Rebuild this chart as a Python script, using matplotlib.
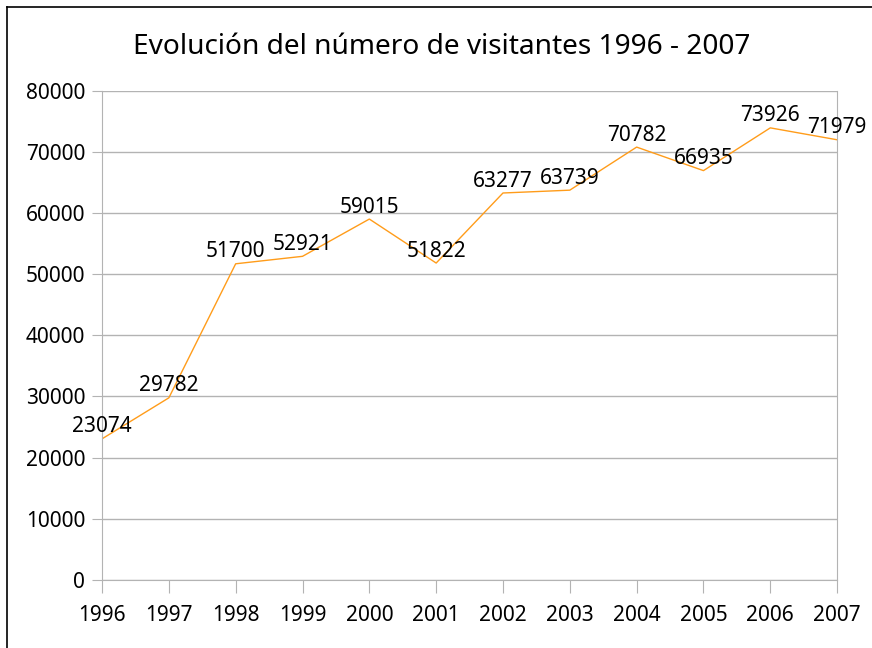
import matplotlib.pyplot as plt
from matplotlib.lines import Line2D

# Données
annees = [1996, 1997, 1998, 1999, 2000, 2001, 2002, 2003, 2004, 2005, 2006, 2007]
visitantes = [23074, 29782, 51700, 52921, 59015, 51822, 63277, 63739, 70782, 66935, 73926, 71979]
y_ticks = [0, 10000, 20000, 30000, 40000, 50000, 60000, 70000, 80000]

plt.rcParams['font.family'] = ['Noto Sans', 'DejaVu Sans']

fig = plt.figure(figsize=(8.72, 6.48), dpi=100)
ax = fig.add_axes([0.117, 0.105, 0.843, 0.755])

ax.plot(annees, visitantes, color='#ff9c1a', linewidth=1.0)

# Etiquettes des valeurs
for x, y in zip(annees, visitantes):
    ax.annotate(f'{y}', xy=(x, y), xytext=(0, 1), textcoords='offset points',
                ha='center', va='bottom', fontsize=15)

ax.set_xlim(1996, 2007)
ax.set_ylim(0, 80000)
ax.set_xticks(annees)
ax.set_yticks(y_ticks)
ax.tick_params(axis='both', labelsize=15, color='#b3b3b3')
ax.tick_params(axis='x', length=9, pad=9)
ax.tick_params(axis='y', length=7, pad=5)

ax.grid(axis='y', color='#b3b3b3', linewidth=1.0)
ax.grid(axis='x', visible=False)
ax.spines['top'].set_visible(False)
for s in ['left', 'bottom', 'right']:
    ax.spines[s].set_color('#b3b3b3')

fig.text(0.507, 0.928, 'Evolución del número de visitantes 1996 - 2007',
         ha='center', va='center', fontsize=20.2)

# Bordure du cadre (haut et gauche)
fig.add_artist(Line2D([0.008, 1.0], [0.989, 0.989], transform=fig.transFigure, color='black', linewidth=1.2))
fig.add_artist(Line2D([0.008, 0.008], [0.0, 0.989], transform=fig.transFigure, color='black', linewidth=1.2))

fig.savefig('out.png', dpi=100)
